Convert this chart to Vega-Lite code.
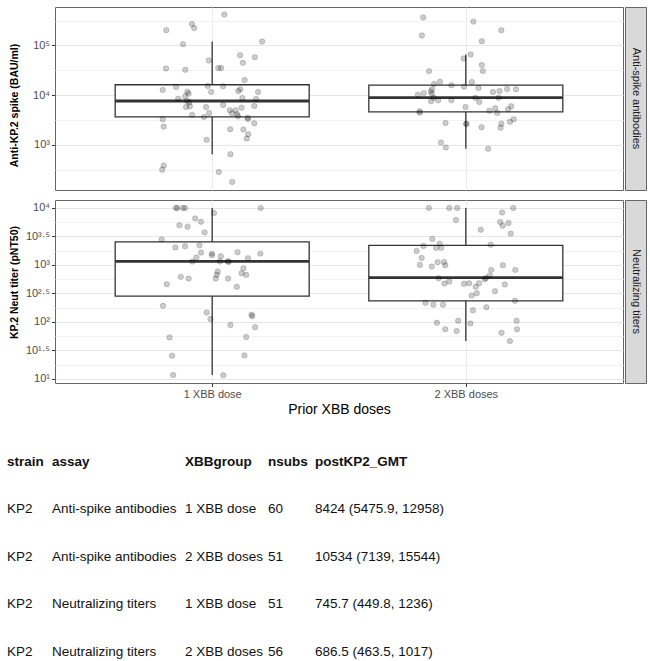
{
  "$schema": "https://vega.github.io/schema/vega-lite/v6.json",
  "padding": {"left": 7, "top": 6, "right": 3, "bottom": 0},
  "background": "white",
  "datasets": {
    "antispike": [
      {"dose":1.048,"value":419000},{"dose":0.920,"value":271000},{"dose":0.929,"value":225000},{"dose":0.819,"value":203000},{"dose":0.885,"value":106000},{"dose":1.197,"value":120000},{"dose":1.110,"value":63800},{"dose":1.168,"value":58200},{"dose":1.121,"value":44800},{"dose":0.987,"value":50000},{"dose":0.818,"value":34600},{"dose":0.894,"value":32400},{"dose":1.024,"value":35100},{"dose":1.035,"value":35100},{"dose":1.128,"value":20100},{"dose":0.805,"value":12700},{"dose":0.858,"value":14600},{"dose":0.902,"value":11700},{"dose":0.907,"value":10700},{"dose":0.983,"value":15300},{"dose":0.996,"value":11600},{"dose":1.043,"value":15100},{"dose":1.103,"value":12100},{"dose":1.111,"value":13100},{"dose":1.181,"value":11600},{"dose":0.866,"value":8490},{"dose":0.893,"value":9490},{"dose":0.900,"value":7640},{"dose":0.910,"value":7190},{"dose":1.119,"value":8770},{"dose":1.173,"value":8380},{"dose":0.897,"value":5780},{"dose":0.912,"value":5970},{"dose":0.976,"value":5780},{"dose":1.043,"value":6340},{"dose":1.069,"value":4960},{"dose":1.092,"value":4960},{"dose":1.116,"value":5600},{"dose":1.166,"value":6050},{"dose":0.921,"value":4000},{"dose":0.968,"value":3650},{"dose":0.988,"value":4390},{"dose":1.078,"value":4330},{"dose":1.098,"value":4130},{"dose":1.102,"value":3770},{"dose":1.140,"value":3530},{"dose":1.141,"value":3330},{"dose":0.805,"value":3280},{"dose":0.809,"value":2330},{"dose":1.166,"value":2720},{"dose":1.071,"value":2070},{"dose":1.123,"value":2030},{"dose":1.142,"value":1640},{"dose":1.136,"value":1340},{"dose":0.978,"value":1260},{"dose":1.072,"value":650},{"dose":0.809,"value":385},{"dose":0.803,"value":315},{"dose":1.026,"value":283},{"dose":1.079,"value":179},
      {"dose":1.832,"value":365000},{"dose":2.030,"value":303000},{"dose":1.827,"value":159000},{"dose":2.140,"value":203000},{"dose":2.063,"value":122000},{"dose":2.019,"value":65900},{"dose":1.991,"value":54800},{"dose":2.063,"value":40300},{"dose":2.067,"value":30500},{"dose":1.855,"value":30500},{"dose":1.898,"value":18600},{"dose":1.875,"value":16800},{"dose":1.943,"value":15800},{"dose":1.993,"value":14800},{"dose":2.024,"value":18400},{"dose":2.050,"value":13900},{"dose":1.867,"value":13100},{"dose":1.811,"value":10200},{"dose":1.834,"value":11000},{"dose":1.862,"value":11900},{"dose":1.866,"value":10700},{"dose":2.107,"value":11600},{"dose":2.133,"value":12100},{"dose":2.163,"value":13300},{"dose":2.198,"value":13100},{"dose":1.873,"value":8890},{"dose":1.863,"value":7530},{"dose":1.891,"value":7890},{"dose":1.943,"value":7890},{"dose":2.038,"value":8890},{"dose":2.053,"value":7300},{"dose":2.129,"value":8890},{"dose":1.999,"value":5780},{"dose":2.093,"value":4880},{"dose":2.116,"value":5450},{"dose":2.124,"value":4390},{"dose":2.167,"value":5200},{"dose":2.179,"value":5970},{"dose":1.818,"value":4740},{"dose":1.818,"value":4450},{"dose":1.920,"value":2760},{"dose":2.001,"value":2670},{"dose":2.003,"value":2640},{"dose":2.062,"value":2260},{"dose":2.140,"value":2670},{"dose":2.137,"value":2220},{"dose":2.174,"value":2930},{"dose":2.189,"value":3280},{"dose":1.902,"value":1110},{"dose":1.921,"value":883},{"dose":2.088,"value":831}
    ],
    "neut": [
      {"dose":0.857,"value":9880},{"dose":0.862,"value":9880},{"dose":0.885,"value":9880},{"dose":0.893,"value":9880},{"dose":1.191,"value":9880},{"dose":1.007,"value":8080},{"dose":0.933,"value":6500},{"dose":0.956,"value":5690},{"dose":0.871,"value":4910},{"dose":0.903,"value":4660},{"dose":0.970,"value":3700},{"dose":0.801,"value":2790},{"dose":0.855,"value":2020},{"dose":0.893,"value":2110},{"dose":0.950,"value":2190},{"dose":0.956,"value":1640},{"dose":0.999,"value":1570},{"dose":0.999,"value":1470},{"dose":1.034,"value":1410},{"dose":1.100,"value":1660},{"dose":1.190,"value":1570},{"dose":0.938,"value":1340},{"dose":0.922,"value":1140},{"dose":1.030,"value":1140},{"dose":1.065,"value":1125},{"dose":1.141,"value":1300},{"dose":1.123,"value":869},{"dose":1.022,"value":762},{"dose":1.018,"value":667},{"dose":1.116,"value":711},{"dose":1.134,"value":667},{"dose":0.876,"value":615},{"dose":0.907,"value":574},{"dose":1.014,"value":574},{"dose":1.063,"value":574},{"dose":0.821,"value":457},{"dose":1.097,"value":411},{"dose":0.806,"value":191},{"dose":0.978,"value":146},{"dose":0.993,"value":112},{"dose":1.155,"value":133},{"dose":1.158,"value":126},{"dose":1.072,"value":88},{"dose":1.169,"value":81},{"dose":0.832,"value":53.5},{"dose":1.134,"value":54.2},{"dose":0.842,"value":25.6},{"dose":1.127,"value":25.9},{"dose":0.846,"value":11.7},{"dose":1.044,"value":11.6},{"dose":1.062,"value":1150},
      {"dose":1.854,"value":9880},{"dose":1.935,"value":9880},{"dose":1.966,"value":9880},{"dose":2.187,"value":9880},{"dose":2.143,"value":8280},{"dose":1.961,"value":6090},{"dose":2.136,"value":5620},{"dose":2.145,"value":4840},{"dose":2.168,"value":5400},{"dose":2.059,"value":4130},{"dose":2.177,"value":3520},{"dose":1.868,"value":2840},{"dose":1.833,"value":2140},{"dose":1.883,"value":1980},{"dose":1.897,"value":2350},{"dose":1.903,"value":1980},{"dose":2.098,"value":2250},{"dose":1.806,"value":1750},{"dose":1.826,"value":1320},{"dose":1.819,"value":997},{"dose":1.866,"value":931},{"dose":1.889,"value":1107},{"dose":1.914,"value":1125},{"dose":1.919,"value":982},{"dose":2.146,"value":982},{"dose":2.195,"value":815},{"dose":2.100,"value":815},{"dose":2.094,"value":649},{"dose":1.893,"value":582},{"dose":1.935,"value":509},{"dose":1.916,"value":470},{"dose":1.993,"value":464},{"dose":2.013,"value":475},{"dose":2.052,"value":475},{"dose":2.074,"value":558},{"dose":2.039,"value":411},{"dose":2.154,"value":452},{"dose":2.115,"value":345},{"dose":2.043,"value":318},{"dose":2.023,"value":290},{"dose":1.841,"value":216},{"dose":1.872,"value":200},{"dose":1.910,"value":200},{"dose":2.194,"value":234},{"dose":2.081,"value":181},{"dose":2.028,"value":160},{"dose":1.886,"value":96.6},{"dose":1.970,"value":104.7},{"dose":2.018,"value":94},{"dose":2.200,"value":104.7},{"dose":1.919,"value":74.7},{"dose":1.964,"value":69},{"dose":2.141,"value":64.5},{"dose":2.202,"value":74.7},{"dose":2.174,"value":46.1},{"dose":2.079,"value":586}
    ],
    "boxes": [
      {"assay":"Anti-spike antibodies","dose":1,"lo":650,"q1":3650,"median":7640,"q3":16220,"hi":120200},
      {"assay":"Anti-spike antibodies","dose":2,"lo":835,"q1":4590,"median":8890,"q3":16000,"hi":65900},
      {"assay":"Neutralizing titers","dose":1,"lo":11.7,"q1":282,"median":1148,"q3":2518,"hi":9880},
      {"assay":"Neutralizing titers","dose":2,"lo":46.5,"q1":234,"median":598,"q3":2190,"hi":9880}
    ],
    "table": [
      {"row":1,"strain":"KP2","assay":"Anti-spike antibodies","XBBgroup":"1 XBB dose","nsubs":60,"postKP2_GMT":"8424 (5475.9, 12958)"},
      {"row":2,"strain":"KP2","assay":"Anti-spike antibodies","XBBgroup":"2 XBB doses","nsubs":51,"postKP2_GMT":"10534 (7139, 15544)"},
      {"row":3,"strain":"KP2","assay":"Neutralizing titers","XBBgroup":"1 XBB dose","nsubs":51,"postKP2_GMT":"745.7 (449.8, 1236)"},
      {"row":4,"strain":"KP2","assay":"Neutralizing titers","XBBgroup":"2 XBB doses","nsubs":56,"postKP2_GMT":"686.5 (463.5, 1017)"}
    ]
  },
  "config": {
    "font": "Liberation Sans",
    "view": {"stroke": "#666666", "strokeWidth": 1},
    "axis": {"labelColor": "#4d4d4d", "labelFontSize": 11, "tickColor": "#333333", "tickSize": 3.5, "tickWidth": 1, "domain": false, "gridColor": "#ebebeb", "labelPadding": 2, "titleColor": "#000000"},
    "title": {"anchor": "start", "frame": "group", "fontSize": 13.5, "fontWeight": "bold", "font": "Liberation Sans", "color": "#111111", "baseline": "alphabetic", "offset": 17, "dx": -48},
    "text": {"align": "left", "baseline": "middle", "fontSize": 13.5, "color": "#111111", "dx": -48}
  },
  "spacing": 37,
  "resolve": {"scale": {"x": "independent", "y": "independent"}},
  "vconcat": [
    {
      "spacing": 8,
      "resolve": {"scale": {"x": "independent", "y": "independent"}},
      "vconcat": [
        {
          "spacing": 0,
          "resolve": {"scale": {"x": "independent", "y": "independent"}},
          "hconcat": [
            {
              "width": 568, "height": 183,
              "layer": [
                {
                  "data": {"name": "boxes"},
                  "transform": [{"filter": "datum.assay == 'Anti-spike antibodies'"}],
                  "mark": {"type": "rule", "color": "#333333", "strokeWidth": 1.3},
                  "encoding": {
                    "x": {"field": "dose", "type": "quantitative", "title": null,
                      "scale": {"domain": [0.4, 2.6], "nice": false, "zero": false},
                      "axis": {"values": [1, 2], "labels": false, "ticks": false, "title": null}},
                    "y": {"field": "lo", "type": "quantitative", "title": "Anti-KP.2 spike  (BAU/ml)",
                      "scale": {"type": "log", "domain": [123.3, 595700], "nice": false},
                      "axis": {
                        "values": [316.2278, 1000, 3162.278, 10000, 31622.78, 100000, 316227.8],
                        "labelExpr": "abs(log(datum.value)/LN10 - round(log(datum.value)/LN10)) > 0.01 ? '' : ['10⁰','10¹','10²','10³','10⁴','10⁵','10⁶'][round(log(datum.value)/LN10)]",
                        "labelOverlap": false, "labelFlush": false,
                        "tickOpacity": {"condition": {"test": "abs(log(datum.value)/LN10 - round(log(datum.value)/LN10)) < 0.01", "value": 1}, "value": 0},
                        "gridColor": {"condition": {"test": "abs(log(datum.value)/LN10 - round(log(datum.value)/LN10)) < 0.01", "value": "#e6e6e6"}, "value": "#f2f2f2"},
                        "minExtent": 32, "maxExtent": 32, "titlePadding": 4,
                        "titleFontSize": 10.5, "titleFontWeight": "bold", "titleY": 98
                      }},
                    "y2": {"field": "hi"}
                  }
                },
                {
                  "data": {"name": "boxes"},
                  "transform": [{"filter": "datum.assay == 'Anti-spike antibodies'"}],
                  "mark": {"type": "bar", "fill": "white", "stroke": "#333333", "strokeWidth": 1.3, "size": 194},
                  "encoding": {
                    "x": {"field": "dose", "type": "quantitative", "title": null},
                    "y": {"field": "q1", "type": "quantitative", "title": "Anti-KP.2 spike  (BAU/ml)"},
                    "y2": {"field": "q3"}
                  }
                },
                {
                  "data": {"name": "boxes"},
                  "transform": [{"filter": "datum.assay == 'Anti-spike antibodies'"}],
                  "mark": {"type": "tick", "orient": "horizontal", "size": 194, "thickness": 2.8, "color": "#333333", "opacity": 1},
                  "encoding": {
                    "x": {"field": "dose", "type": "quantitative", "title": null},
                    "y": {"field": "median", "type": "quantitative", "title": "Anti-KP.2 spike  (BAU/ml)"}
                  }
                },
                {
                  "data": {"name": "antispike"},
                  "mark": {"type": "circle", "fill": "#000000", "fillOpacity": 0.2, "stroke": "#000000", "strokeOpacity": 0.2, "strokeWidth": 0.8, "size": 30},
                  "encoding": {
                    "x": {"field": "dose", "type": "quantitative", "title": null},
                    "y": {"field": "value", "type": "quantitative", "title": "Anti-KP.2 spike  (BAU/ml)"}
                  }
                }
              ]
            },
            {
              "width": 21, "height": 183,
              "view": {"fill": "#d9d9d9", "stroke": "#666666"},
              "data": {"values": [{"panel": "Anti-spike antibodies"}]},
              "mark": {"type": "text", "angle": 90, "fontSize": 11, "color": "#1a1a1a", "align": "center", "baseline": "middle", "dx": 0},
              "encoding": {"text": {"field": "panel"}}
            }
          ]
        },
        {
          "spacing": 0,
          "resolve": {"scale": {"x": "independent", "y": "independent"}},
          "hconcat": [
            {
              "width": 568, "height": 183,
              "layer": [
                {
                  "data": {"name": "boxes"},
                  "transform": [{"filter": "datum.assay == 'Neutralizing titers'"}],
                  "mark": {"type": "rule", "color": "#333333", "strokeWidth": 1.3},
                  "encoding": {
                    "x": {"field": "dose", "type": "quantitative", "title": "Prior XBB doses",
                      "scale": {"domain": [0.4, 2.6], "nice": false, "zero": false},
                      "axis": {"values": [1, 2], "labelExpr": "datum.value == 1 ? '1 XBB dose' : '2 XBB doses'", "labelFlush": false, "labelOverlap": false, "titleFontSize": 14, "titleFontWeight": "normal", "titlePadding": 3}},
                    "y": {"field": "lo", "type": "quantitative", "title": "KP.2 Neut titer (pNT50)",
                      "scale": {"type": "log", "domain": [8.51, 13650], "nice": false},
                      "axis": {
                        "values": [10, 17.7828, 31.6228, 56.2341, 100, 177.828, 316.228, 562.341, 1000, 1778.28, 3162.28, 5623.41, 10000],
                        "labelExpr": "abs(log(datum.value)/LN10*2 - round(log(datum.value)/LN10*2)) > 0.01 ? '' : ['','','10¹','10¹·⁵','10²','10²·⁵','10³','10³·⁵','10⁴'][round(log(datum.value)/LN10*2)]",
                        "labelOverlap": false, "labelFlush": false,
                        "tickOpacity": {"condition": {"test": "abs(log(datum.value)/LN10*2 - round(log(datum.value)/LN10*2)) < 0.01", "value": 1}, "value": 0},
                        "gridColor": {"condition": {"test": "abs(log(datum.value)/LN10*2 - round(log(datum.value)/LN10*2)) < 0.01", "value": "#e6e6e6"}, "value": "#f2f2f2"},
                        "minExtent": 32, "maxExtent": 32, "titlePadding": 4,
                        "titleFontSize": 10.5, "titleFontWeight": "bold", "titleY": 82
                      }},
                    "y2": {"field": "hi"}
                  }
                },
                {
                  "data": {"name": "boxes"},
                  "transform": [{"filter": "datum.assay == 'Neutralizing titers'"}],
                  "mark": {"type": "bar", "fill": "white", "stroke": "#333333", "strokeWidth": 1.3, "size": 194},
                  "encoding": {
                    "x": {"field": "dose", "type": "quantitative", "title": "Prior XBB doses"},
                    "y": {"field": "q1", "type": "quantitative", "title": "KP.2 Neut titer (pNT50)"},
                    "y2": {"field": "q3"}
                  }
                },
                {
                  "data": {"name": "boxes"},
                  "transform": [{"filter": "datum.assay == 'Neutralizing titers'"}],
                  "mark": {"type": "tick", "orient": "horizontal", "size": 194, "thickness": 2.8, "color": "#333333", "opacity": 1},
                  "encoding": {
                    "x": {"field": "dose", "type": "quantitative", "title": "Prior XBB doses"},
                    "y": {"field": "median", "type": "quantitative", "title": "KP.2 Neut titer (pNT50)"}
                  }
                },
                {
                  "data": {"name": "neut"},
                  "mark": {"type": "circle", "fill": "#000000", "fillOpacity": 0.2, "stroke": "#000000", "strokeOpacity": 0.2, "strokeWidth": 0.8, "size": 30},
                  "encoding": {
                    "x": {"field": "dose", "type": "quantitative", "title": "Prior XBB doses"},
                    "y": {"field": "value", "type": "quantitative", "title": "KP.2 Neut titer (pNT50)"}
                  }
                }
              ]
            },
            {
              "width": 21, "height": 183,
              "view": {"fill": "#d9d9d9", "stroke": "#666666"},
              "data": {"values": [{"panel": "Neutralizing titers"}]},
              "mark": {"type": "text", "angle": 90, "fontSize": 11, "color": "#1a1a1a", "align": "center", "baseline": "middle", "dx": 0},
              "encoding": {"text": {"field": "panel"}}
            }
          ]
        }
      ]
    },
    {
      "spacing": 0,
      "bounds": "flush",
      "resolve": {"scale": {"y": "independent"}},
      "hconcat": [
        {
          "width": 45, "height": 191, "view": {"stroke": null},
          "title": {"text": "strain"},
          "data": {"name": "table"},
          "mark": {"type": "text"},
          "encoding": {"x": {"value": 0}, "y": {"field": "row", "type": "ordinal", "axis": null}, "text": {"field": "strain"}}
        },
        {
          "width": 133, "height": 191, "view": {"stroke": null},
          "title": {"text": "assay"},
          "data": {"name": "table"},
          "mark": {"type": "text"},
          "encoding": {"x": {"value": 0}, "y": {"field": "row", "type": "ordinal", "axis": null}, "text": {"field": "assay"}}
        },
        {
          "width": 83, "height": 191, "view": {"stroke": null},
          "title": {"text": "XBBgroup"},
          "data": {"name": "table"},
          "mark": {"type": "text"},
          "encoding": {"x": {"value": 0}, "y": {"field": "row", "type": "ordinal", "axis": null}, "text": {"field": "XBBgroup"}}
        },
        {
          "width": 47, "height": 191, "view": {"stroke": null},
          "title": {"text": "nsubs"},
          "data": {"name": "table"},
          "mark": {"type": "text"},
          "encoding": {"x": {"value": 0}, "y": {"field": "row", "type": "ordinal", "axis": null}, "text": {"field": "nsubs"}}
        },
        {
          "width": 200, "height": 191, "view": {"stroke": null},
          "title": {"text": "postKP2_GMT"},
          "data": {"name": "table"},
          "mark": {"type": "text"},
          "encoding": {"x": {"value": 0}, "y": {"field": "row", "type": "ordinal", "axis": null}, "text": {"field": "postKP2_GMT"}}
        }
      ]
    }
  ]
}
